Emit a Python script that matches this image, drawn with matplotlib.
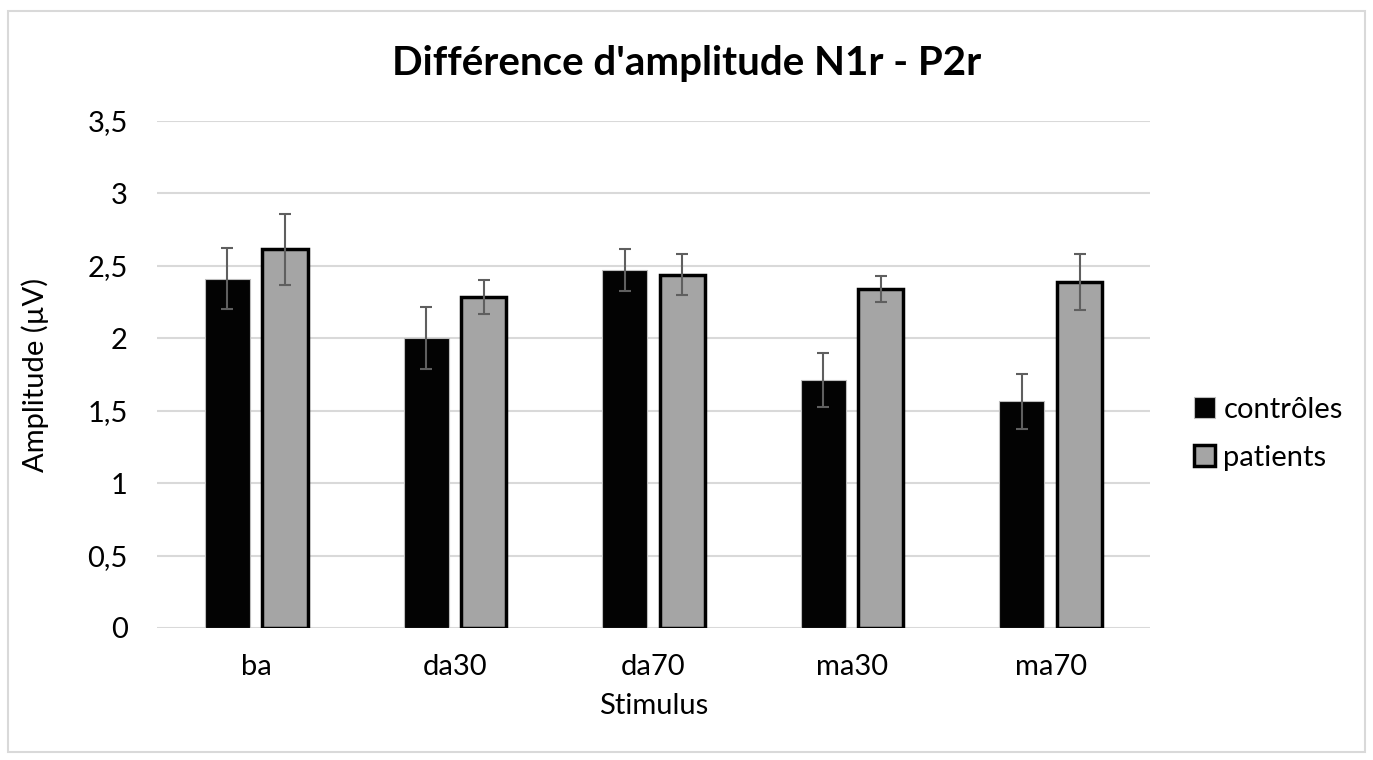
import matplotlib.pyplot as plt
from matplotlib.patches import Rectangle
from matplotlib.ticker import FuncFormatter
import numpy as np

plt.rcParams['font.family'] = ['Lato', 'DejaVu Sans']

# data
stimuli = ['ba', 'da30', 'da70', 'ma30', 'ma70']
controles = [2.41, 2.00, 2.47, 1.71, 1.565]
controles_err = [0.21, 0.215, 0.145, 0.185, 0.19]
patients = [2.615, 2.285, 2.44, 2.34, 2.39]
patients_err = [0.245, 0.115, 0.14, 0.09, 0.195]

fig = plt.figure(figsize=(13.73, 7.6), dpi=100)
ax = fig.add_axes([0.1143, 0.1737, 0.7233, 0.6671])

x = np.arange(len(stimuli))
w = 0.227
off = 0.145
errstyle = dict(ecolor='#5f5f5f', elinewidth=1.5, capsize=4.5, capthick=1.5)

ax.bar(x - off, controles, w, color='#030303', edgecolor='#bdbdbd', linewidth=0.8,
       yerr=controles_err, error_kw=errstyle, label='contrôles', zorder=3)
ax.bar(x + off, patients, w, color='#a5a5a5', edgecolor='black', linewidth=2.5,
       yerr=patients_err, error_kw=errstyle, label='patients', zorder=3)

ax.set_xlim(-0.5, len(stimuli) - 0.5)
ax.set_ylim(0, 3.5)
ax.set_yticks(np.arange(0, 3.51, 0.5))
ax.yaxis.set_major_formatter(FuncFormatter(lambda v, p: ('%g' % v).replace('.', ',')))
ax.set_xticks(x)
ax.set_xticklabels(stimuli)
ax.tick_params(length=0, labelsize=21, colors='black')
ax.tick_params(axis='x', pad=19)
ax.tick_params(axis='y', pad=21)
ax.grid(axis='y', color='#d9d9d9', linewidth=1.5, zorder=0)
for s in ax.spines.values():
    s.set_visible(False)

ax.set_xlabel('Stimulus', fontsize=21, labelpad=9)
ax.set_ylabel('Amplitude (µV)', fontsize=21, labelpad=28)
fig.text(0.5, 0.917, "Différence d'amplitude N1r - P2r", ha='center', va='center',
         fontsize=29, fontweight='bold')

ax.legend(loc='center left', bbox_to_anchor=(1.018, 0.383), frameon=False, fontsize=21,
          handlelength=0.7, handleheight=0.7, handletextpad=0.3, labelspacing=0.75)

fig.patches.append(Rectangle((0.006, 0.01), 0.988, 0.975, transform=fig.transFigure,
                             fill=False, edgecolor='#d9d9d9', linewidth=1.5))

fig.savefig('out.png', dpi=100)
